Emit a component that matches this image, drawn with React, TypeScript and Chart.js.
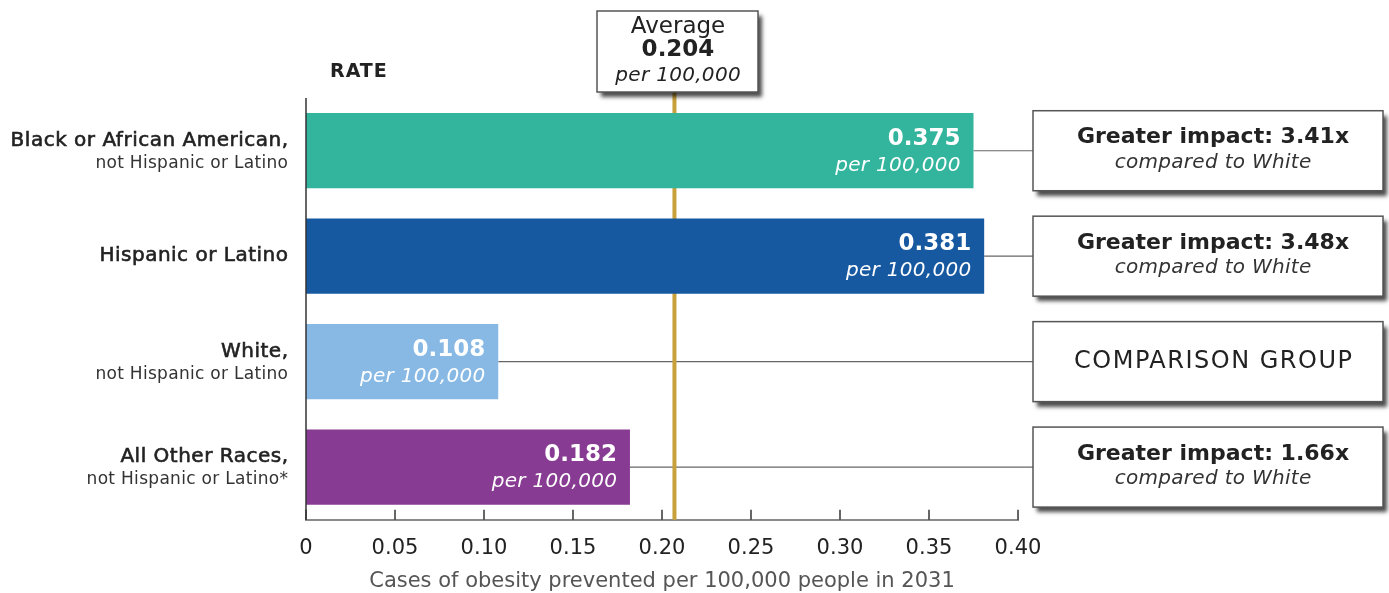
import React, { useEffect, useRef } from "react";
import { Chart, registerables } from "chart.js";

Chart.register(...registerables);

const categoryMain = ["Black or African American,", "Hispanic or Latino", "White,", "All Other Races,"];
const categorySub = ["not Hispanic or Latino", "", "not Hispanic or Latino", "not Hispanic or Latino*"];
const rates = [0.375, 0.381, 0.108, 0.182];
const rateLabels = ["0.375", "0.381", "0.108", "0.182"];
const barColors = ["#33b49c", "#1759a1", "#88b9e4", "#883b92"];
const impactMain = ["Greater impact: 3.41x", "Greater impact: 3.48x", "COMPARISON GROUP", "Greater impact: 1.66x"];
const impactSub = ["compared to White", "compared to White", "", "compared to White"];
const averageLabel = "0.204";
const averageLineAt = 0.207;
const tickLabels = ["0", "0.05", "0.10", "0.15", "0.20", "0.25", "0.30", "0.35", "0.40"];
const axisTitle = "Cases of obesity prevented per 100,000 people in 2031";

const FONT = "'DejaVu Sans', sans-serif";

function drawBox(ctx: CanvasRenderingContext2D, x: number, y: number, w: number, h: number) {
  ctx.save();
  ctx.shadowColor = "rgba(0,0,0,0.7)";
  ctx.shadowBlur = 4;
  ctx.shadowOffsetX = 4;
  ctx.shadowOffsetY = 5;
  ctx.fillStyle = "#ffffff";
  ctx.fillRect(x, y, w, h);
  ctx.restore();
  ctx.save();
  ctx.strokeStyle = "#555555";
  ctx.lineWidth = 1.5;
  ctx.strokeRect(x, y, w, h);
  ctx.restore();
}

function txt(ctx: any, text: string, x: number, y: number, font: string, spacing = 0, stroke = 0) {
  ctx.save();
  ctx.font = font;
  ctx.letterSpacing = `${spacing}px`;
  let dx = 0;
  if (ctx.textAlign === "right") dx = spacing;
  else if (ctx.textAlign === "center") dx = spacing / 2;
  ctx.fillText(text, x + dx, y);
  if (stroke > 0) {
    ctx.strokeStyle = ctx.fillStyle;
    ctx.lineWidth = stroke;
    ctx.strokeText(text, x + dx, y);
  }
  ctx.restore();
}

const decorPlugin = {
  id: "decor",
  beforeDatasetsDraw(chart: any) {
    const { ctx, chartArea, scales } = chart;
    const xs = scales.x;
    const meta = chart.getDatasetMeta(0);
    ctx.save();
    ctx.strokeStyle = "#666666";
    ctx.lineWidth = 1.2;
    meta.data.forEach((bar: any) => {
      ctx.beginPath();
      ctx.moveTo(bar.x, bar.y);
      ctx.lineTo(1033, bar.y);
      ctx.stroke();
    });
    const ax = xs.getPixelForValue(averageLineAt);
    ctx.strokeStyle = "#c9a13b";
    ctx.lineWidth = 4;
    ctx.beginPath();
    ctx.moveTo(ax, 92);
    ctx.lineTo(ax, chartArea.bottom);
    ctx.stroke();
    ctx.restore();
  },
  afterDatasetsDraw(chart: any) {
    const { ctx, chartArea, scales } = chart;
    const xs = scales.x;
    const meta = chart.getDatasetMeta(0);
    ctx.save();
    ctx.strokeStyle = "#333333";
    ctx.lineWidth = 1.5;
    ctx.beginPath();
    ctx.moveTo(chartArea.left, chartArea.top);
    ctx.lineTo(chartArea.left, chartArea.bottom);
    ctx.stroke();
    xs.ticks.forEach((t: any) => {
      const px = xs.getPixelForValue(t.value);
      ctx.beginPath();
      ctx.moveTo(px, chartArea.bottom);
      ctx.lineTo(px, chartArea.bottom - 10);
      ctx.stroke();
    });

    ctx.textBaseline = "middle";
    ctx.fillStyle = "#555555";
    ctx.textAlign = "center";
    txt(ctx, axisTitle, (chartArea.left + chartArea.right) / 2, 582, `21px ${FONT}`, 0);

    ctx.fillStyle = "#222222";
    ctx.textAlign = "left";
    txt(ctx, "RATE", 330, 72, `bold 19px ${FONT}`, 1);

    meta.data.forEach((bar: any, i: number) => {
      const cy = bar.y;
      ctx.textAlign = "right";
      ctx.fillStyle = "#222222";
      if (categorySub[i]) {
        txt(ctx, categoryMain[i], 288, cy - 10, `20px ${FONT}`, 0.5, 0.6);
        ctx.fillStyle = "#333333";
        txt(ctx, categorySub[i], 288, cy + 13, `17px ${FONT}`, 0.3);
      } else {
        txt(ctx, categoryMain[i], 288, cy, `20px ${FONT}`, 0.5, 0.6);
      }
      ctx.fillStyle = "#ffffff";
      txt(ctx, rateLabels[i], bar.x - 13, cy - 12, `bold 23px ${FONT}`, 0);
      txt(ctx, "per 100,000", bar.x - 13, cy + 15, `oblique 20px ${FONT}`, 0.3);

      drawBox(ctx, 1033, cy - 40, 350, 80);
      ctx.textAlign = "center";
      ctx.fillStyle = "#222222";
      if (impactSub[i]) {
        txt(ctx, impactMain[i], 1213, cy - 13, `bold 22px ${FONT}`, 0);
        ctx.fillStyle = "#333333";
        txt(ctx, impactSub[i], 1213, cy + 12, `oblique 20px ${FONT}`, 0.3);
      } else {
        txt(ctx, impactMain[i], 1213, cy, `24px ${FONT}`, 1.5);
      }
    });

    drawBox(ctx, 597, 11, 161, 81);
    ctx.textAlign = "center";
    ctx.fillStyle = "#222222";
    txt(ctx, "Average", 678, 27, `23px ${FONT}`, 0);
    txt(ctx, averageLabel, 678, 50, `bold 23px ${FONT}`, 0);
    txt(ctx, "per 100,000", 678, 76, `oblique 20px ${FONT}`, 0.3);
    ctx.restore();
  },
};

export default function App() {
  const ref = useRef<HTMLCanvasElement | null>(null);
  useEffect(() => {
    document.body.style.margin = "0";
    const canvas = ref.current!;
    const chart = new Chart(canvas, {
      type: "bar",
      data: {
        labels: categoryMain,
        datasets: [
          {
            data: rates,
            backgroundColor: barColors,
            barPercentage: 0.714,
            categoryPercentage: 1,
          },
        ],
      },
      options: {
        indexAxis: "y",
        animation: false,
        responsive: false,
        devicePixelRatio: 1,
        layout: { padding: { left: 306, right: 371, top: 98, bottom: 16 } },
        plugins: {
          legend: { display: false },
          tooltip: { enabled: false },
        },
        scales: {
          y: { display: false },
          x: {
            min: 0,
            max: 0.4,
            grid: { display: false, drawTicks: false },
            border: { display: true, color: "#8a8a8a", width: 2 },
            ticks: {
              stepSize: 0.05,
              padding: 16,
              color: "#222222",
              font: { family: FONT, size: 21 },
              callback: (_v: any, i: number) => tickLabels[i],
            },
          },
        },
      },
      plugins: [decorPlugin],
    });
    return () => chart.destroy();
  }, []);
  return <canvas ref={ref} width={1389} height={593} style={{ display: "block" }} />;
}
